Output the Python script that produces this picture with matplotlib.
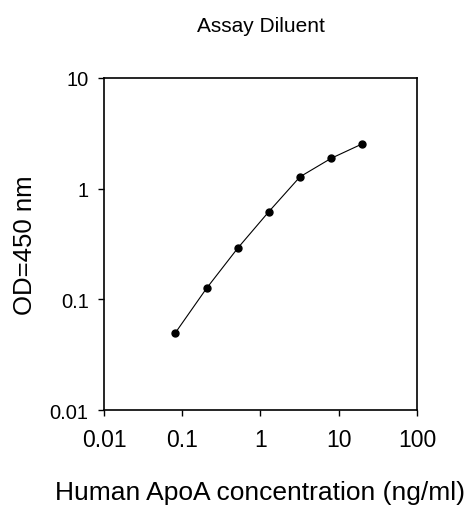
import matplotlib
matplotlib.use("Agg")
import matplotlib.pyplot as plt
from matplotlib.ticker import FixedLocator, FixedFormatter, NullLocator

plt.rcParams['font.family'] = ['Liberation Sans', 'DejaVu Sans']

# standard curve, 2.5-fold dilutions
conc = [0.082, 0.205, 0.512, 1.28, 3.2, 8.0, 20.0]
od = [0.050, 0.126, 0.29, 0.62, 1.28, 1.88, 2.54]

tick_vals = [0.01, 0.1, 1, 10, 100]
xtick_labels = ["0.01", "0.1", "1", "10", "100"]
ytick_vals = [0.01, 0.1, 1, 10]
ytick_labels = ["0.01", "0.1", "1", "10"]

fig = plt.figure(figsize=(4.72, 5.10), dpi=100)
ax = fig.add_axes([0.2203, 0.1941, 0.6631, 0.651])

ax.plot(conc, od, color="black", linewidth=0.8, marker="o", markersize=5)

ax.set_xscale("log")
ax.set_yscale("log")
ax.set_xlim(0.01, 100)
ax.set_ylim(0.01, 10)

ax.xaxis.set_major_locator(FixedLocator(tick_vals))
ax.xaxis.set_major_formatter(FixedFormatter(xtick_labels))
ax.yaxis.set_major_locator(FixedLocator(ytick_vals))
ax.yaxis.set_major_formatter(FixedFormatter(ytick_labels))
ax.xaxis.set_minor_locator(NullLocator())
ax.yaxis.set_minor_locator(NullLocator())

ax.tick_params(axis="x", direction="out", length=4, width=1, labelsize=16.5, pad=9)
ax.tick_params(axis="y", direction="out", length=4, width=1, labelsize=14.5, pad=7)
for s in ax.spines.values():
    s.set_linewidth(1.2)

ax.set_title("Assay Diluent", fontsize=15, pad=34)
ax.set_xlabel("Human ApoA concentration (ng/ml)", fontsize=19, labelpad=21)
ax.set_ylabel("OD=450 nm", fontsize=18.5, labelpad=9)

fig.savefig("out.png", dpi=100)
